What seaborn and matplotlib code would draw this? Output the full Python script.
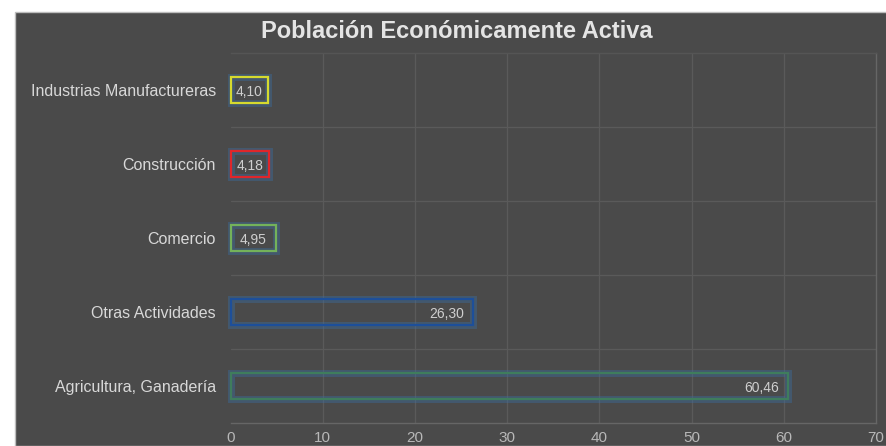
import matplotlib
matplotlib.use("Agg")
import matplotlib.pyplot as plt
import matplotlib.patheffects as pe
from matplotlib.patches import Rectangle
import seaborn as sns
import pandas as pd

categories = [
    "Industrias Manufactureras",
    "Construcción",
    "Comercio",
    "Otras Actividades",
    "Agricultura, Ganadería",
]
values = [4.10, 4.18, 4.95, 26.30, 60.46]
edge_colors = ["#d6da2e", "#e0262a", "#74b25a", "#1d4f9a", "#3f7d5c"]
x_ticks = [0, 10, 20, 30, 40, 50, 60, 70]

PANEL = "#4a4a4a"
GRID = "#5a5a5a"
TEXT = "#d8d8d8"

sns.set_theme(style="dark")
plt.rcParams["font.family"] = ["Liberation Sans", "DejaVu Sans"]

fig = plt.figure(figsize=(8.87, 4.46), dpi=100, facecolor="white")

# dark panel behind the chart
W, H = 887, 446
panel = Rectangle((15 / W, 0), 1 - 15 / W, (H - 12) / H, transform=fig.transFigure,
                  facecolor=PANEL, edgecolor="#bdbdbd", linewidth=1.0, zorder=-10)
fig.patches.append(panel)

ax = fig.add_axes([230.6 / W, 23 / H, (876 - 230.6) / W, (423 - 53) / H])
ax.set_facecolor(PANEL)

df = pd.DataFrame({"categoria": categories, "valor": values})
sns.barplot(data=df, x="valor", y="categoria", hue="categoria", palette=edge_colors,
            fill=False, width=0.36, legend=False, ax=ax, orient="h")

glow = [pe.Stroke(linewidth=5, foreground="#3a6ea5", alpha=0.4), pe.Normal()]
for patch in ax.patches:
    patch.set_linewidth(1.6)
    patch.set_path_effects(glow)
    patch.set_zorder(3)
    patch.set_clip_on(False)

# value labels: inside the bar end, centred when the bar is short
for i, v in enumerate(values):
    txt = f"{v:.2f}".replace(".", ",")
    if v < 10:
        ax.annotate(txt, xy=(v / 2, i), ha="center", va="center_baseline",
                    color="#cfcfcf", fontsize=10, zorder=4)
    else:
        ax.annotate(txt, xy=(v, i), xytext=(-6.5, 0), textcoords="offset points",
                    ha="right", va="center_baseline", color="#cfcfcf",
                    fontsize=10, zorder=4)

ax.set_xlim(0, 70)
ax.set_ylim(4.5, -0.5)
ax.set_xticks(x_ticks)
ax.set_xticklabels([str(t) for t in x_ticks])
ax.tick_params(axis="x", colors="#b8b8b8", labelsize=11, length=0, pad=6)
ax.tick_params(axis="y", colors=TEXT, labelsize=11.5, length=0, pad=10.5)
for lbl in ax.get_yticklabels():
    lbl.set_color(TEXT)
for lbl in ax.get_xticklabels():
    lbl.set_color("#b8b8b8")
ax.set_xlabel("")
ax.set_ylabel("")

# vertical grid at each tick, horizontal lines between categories
ax.grid(False)
for t in x_ticks[1:-1]:
    ax.axvline(t, color=GRID, linewidth=0.9, zorder=1)
for b in [0.5, 1.5, 2.5, 3.5]:
    ax.axhline(b, color=GRID, linewidth=0.9, zorder=1)

for side in ["top", "right", "bottom"]:
    ax.spines[side].set_visible(True)
    ax.spines[side].set_linewidth(1.0)
ax.spines["top"].set_color("#555555")
ax.spines["right"].set_color("#666666")
ax.spines["bottom"].set_color("#666666")
ax.spines["left"].set_visible(False)

fig.text(457 / W, (H - 31) / H, "Población Económicamente Activa", ha="center",
         va="center", color="#e4e4e4", fontsize=17, fontweight="bold")

fig.savefig("out.png", dpi=100, facecolor="white")
